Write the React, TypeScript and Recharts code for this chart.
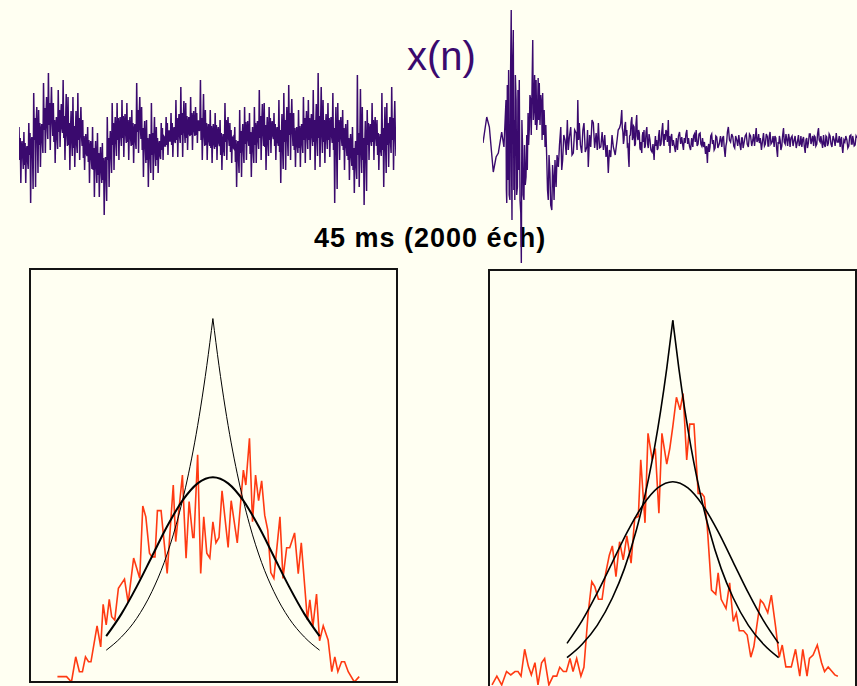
import React from 'react';
import { LineChart, ComposedChart, Line, XAxis, YAxis } from 'recharts';

const BG = '#fffff2';
const PURPLE = '#3a0a6e';
const RED = '#ff3a12';
const INK = '#141414';

// stationary noise x(n): values read column by column (peak, core, trough ...)
const leftWave = [
  13, -20, 2, -43, -6, -1, -16, -29, 8, -25, -3, -43, -11, -6, -21, -29, 17, -15, 7, -63, -1, 3, -11, -49,
  47, 0, 22, -47, 14, 33, 4, -33, 30, -5, 17, -27, 9, 16, -1, -13, 57, 10, 32, -13, 24, 43, 14, 1,
  67, 15, 37, -10, 29, 53, 19, 4, 37, -2, 20, -23, 12, 23, 2, -9, 50, 8, 30, -7, 22, 36, 12, 7,
  60, 2, 24, -20, 16, 46, 6, -6, 43, -5, 17, -30, 9, 29, -1, -16, 43, -8, 14, -27, 6, 29, -4, -13,
  47, 0, 22, -20, 14, 33, 4, -6, 20, -18, 4, -30, -4, 6, -14, -16, 13, -22, 0, -43, -8, -1, -18, -29,
  13, -30, -8, -57, -16, -1, -26, -43, 7, -35, -13, -57, -21, -7, -31, -43, -3, -40, -18, -75, -26, -17, -36, -61,
  23, -20, 2, -47, -6, 9, -16, -33, 37, -5, 17, -30, 9, 23, -1, -16, 37, 0, 22, -20, 14, 23, 4, -6,
  40, 2, 24, -17, 16, 26, 6, -3, 37, -2, 20, -20, 12, 23, 2, -6, 30, -5, 17, -23, 9, 16, -1, -9,
  57, 8, 30, -13, 22, 43, 12, 1, 33, -10, 12, -37, 4, 19, -6, -23, 20, -20, 2, -47, -6, 6, -16, -33,
  37, -15, 7, -40, -1, 23, -11, -26, 13, -20, 2, -33, -6, -1, -16, -19, 17, -10, 12, -20, 4, 3, -6, -6,
  23, -5, 17, -15, 9, 9, -1, -1, 27, -5, 17, -17, 9, 13, -1, -3, 40, 0, 22, -17, 14, 26, 4, -3,
  53, 5, 27, -17, 19, 39, 9, -3, 37, 2, 24, -10, 16, 23, 6, 4, 43, 5, 27, -10, 19, 29, 9, 4,
  33, 5, 27, -3, 19, 19, 9, 11, 60, 0, 22, -20, 14, 46, 4, -6, 30, -5, 17, -20, 9, 16, -1, -6,
  30, -8, 14, -23, 6, 16, -4, -9, 27, -7, 15, -20, 7, 13, -3, -6, 20, -15, 7, -30, -1, 6, -11, -16,
  37, -2, 20, -20, 12, 23, 2, -6, 17, -12, 10, -23, 2, 3, -8, -9, 13, -22, 0, -47, -8, -1, -18, -33,
  30, -13, 9, -37, 1, 16, -9, -23, 33, -4, 18, -20, 10, 19, 0, -6, 27, -14, 8, -37, 0, 13, -10, -23,
  33, -5, 17, -23, 9, 19, -1, -9, 50, 2, 24, -20, 16, 36, 6, -6, 37, -7, 15, -30, 7, 23, -3, -16,
  33, 0, 22, -13, 14, 19, 4, 1, 27, -6, 16, -20, 8, 13, -2, -6, 40, -12, 10, -43, 2, 26, -8, -29,
  47, -2, 20, -30, 12, 33, 2, -16, 55, 5, 27, -20, 19, 41, 9, -6, 27, -10, 12, -27, 4, 13, -6, -13,
  30, -8, 14, -27, 6, 16, -4, -13, 43, 0, 22, -23, 14, 29, 4, -9, 40, 0, 22, -20, 14, 26, 4, -6,
  50, -2, 20, -30, 12, 36, 2, -16, 67, 2, 24, -27, 16, 53, 6, -13, 40, -2, 20, -23, 12, 26, 2, -9,
  37, 0, 22, -17, 14, 23, 4, -3, 47, -10, 12, -63, 4, 33, -6, -49, 37, -2, 20, -20, 12, 23, 2, -6,
  30, -10, 12, -30, 4, 16, -6, -16, 20, -20, 2, -40, -6, 6, -16, -26, 13, -30, -8, -53, -16, -1, -26, -39,
  65, -15, 7, -47, -1, 51, -11, -33, 33, -20, 2, -65, -6, 19, -16, -51, 30, -5, 17, -20, 9, 16, -1, -6,
  37, -2, 20, -20, 12, 23, 2, -6, 20, -15, 7, -30, -1, 6, -11, -16, 47, -10, 12, -47, 4, 33, -6, -33,
  37, -5, 17, -27, 9, 23, -1, -13, 53, 0, 22, -30, 14, 39, 4, -16,
];

// transient x(n): [sample, value]
const rightWave: [number, number][] = [
  [0, -3], [20, 23], [34, 13], [55, -32], [70, -17], [82, -13], [100, 8], [112, -7],
  [123, 40], [125, -50], [127, -63], [130, 55], [133, -40], [137, 70], [140, -55], [144, -60], [147, 60], [151, 130],
  [153, -30], [155, -80], [158, 75], [162, 110], [165, -50], [168, 20], [170, -60], [173, 65], [177, 40], [180, -55],
  [184, -47], [187, 50], [190, -30], [194, 60], [198, -60], [202, -73], [205, -123], [208, 20], [212, -10], [215, -55],
  [219, -60], [222, -5], [226, -45], [230, -37], [234, 5], [237, -30], [241, 27], [244, -5], [248, 13], [251, 45],
  [255, 40], [258, 5], [262, 50], [266, 100], [269, 20], [273, 33], [276, 65], [280, 15], [284, 60], [287, 10],
  [291, 23], [295, 62], [298, 20], [301, 57], [305, 15], [309, 45], [314, 33], [316, 0], [319, 47], [323, 5],
  [327, 30], [332, -7], [336, 15], [341, -20], [345, -50], [349, -60], [353, -15], [358, -33], [362, -65], [368, -70],
  [372, -25], [376, -37], [380, -60], [385, -20], [391, -47], [396, -15], [403, -27], [409, -5], [416, 13], [421, -30],
  [426, -20], [432, 5], [439, 0], [445, -15], [451, 20], [456, -10], [462, 3], [469, 13], [476, -15], [483, -13],
  [490, 10], [498, 7], [503, -10], [507, 40], [511, 0], [515, 17], [521, -5], [528, -13], [534, 10], [540, 17],
  [547, -12], [555, -7], [559, 10], [563, -27], [570, 5], [576, -7], [583, 20], [590, 17], [597, -8], [605, 7],
  [611, -10], [617, 17], [623, -8], [630, -7], [637, 8], [644, -10], [651, 5], [658, -17], [664, -5], [670, -33],
  [676, -10], [683, -17], [690, 5], [697, -7], [707, -15],
  [717, 0], [723, 10], [730, 12], [736, 16], [742, 30], [745, 12], [748, 8], [751, -4], [754, 0], [758, 14],
  [762, 18], [765, 4], [769, 10], [772, -6], [775, -5], [778, -18], [781, -27], [784, 4], [788, 5], [792, 18],
  [796, 23], [799, 0], [802, 2], [805, 14], [808, 13], [811, -6], [815, -4], [818, 16], [822, 25], [825, 4],
  [829, 0], [832, 10], [836, 7], [839, -8], [842, -10], [845, -2], [849, -13], [852, 4], [855, 8], [858, -2],
  [861, 10], [864, -8], [868, -6], [872, 8], [876, 13], [880, -4], [884, -8], [888, 6], [893, 0], [898, -10],
  [904, -12], [909, -4], [915, -20], [918, -6], [922, 4], [925, -6], [929, 0], [932, -10], [936, -8], [939, 4],
  [943, 10], [947, -6], [952, -4], [956, 8], [961, 17], [964, 0], [968, -6], [971, 6], [974, 0], [978, 10],
  [982, 8], [986, -2], [991, 20], [993, 2], [995, -6], [997, 4], [1000, -13], [1004, 2], [1009, 6], [1013, -6],
  [1018, 0], [1023, -6], [1029, -12], [1034, 2], [1040, -10], [1045, 4], [1051, 8], [1057, -4], [1063, 3], [1067, -4],
  [1072, -10], [1076, 2], [1081, -3], [1085, 6], [1090, 10], [1094, -4], [1099, 2], [1104, -6], [1110, -10], [1116, 2],
  [1122, -7], [1126, 4], [1131, 6], [1135, -2], [1140, 10], [1145, -6], [1150, -4], [1155, 6], [1161, 7], [1165, -4],
  [1170, -6], [1174, 2], [1179, -7], [1184, -2], [1190, -14], [1195, -6], [1200, -23], [1203, -8], [1207, -4], [1210, -12],
  [1214, -7], [1218, 4], [1223, 6], [1227, -4], [1232, 0], [1236, -10], [1241, -8], [1245, 4], [1250, 3], [1256, -8],
  [1263, -4], [1270, 4], [1277, -7], [1281, 2], [1286, 4], [1290, -8], [1295, -17], [1299, -6], [1303, -2], [1307, 8],
  [1312, 13], [1318, 0], [1324, -2], [1330, 6], [1336, 3], [1341, -6], [1346, -8], [1351, 4], [1357, 0], [1362, -6],
  [1368, 5], [1373, -4], [1379, -10], [1383, 2], [1387, 2], [1391, -8], [1396, -3], [1402, 4], [1408, 6], [1413, -4],
  [1419, -7], [1425, 6], [1431, 4], [1437, -6], [1443, 0], [1447, 6], [1452, -6], [1456, 2], [1461, 12], [1465, -2],
  [1470, 0], [1474, 6], [1478, -3], [1483, 2], [1489, -10], [1494, -2], [1500, 7], [1505, -6], [1510, -4], [1515, 6],
  [1521, 3], [1524, -6], [1528, -6], [1531, 4], [1535, 8], [1540, -4], [1546, -2], [1551, 4], [1557, -7], [1561, 4],
  [1566, 2], [1570, -8], [1575, -17], [1578, -2], [1582, -4], [1585, 4], [1589, 0], [1593, -10], [1598, -6], [1602, 4],
  [1607, 12], [1611, -2], [1616, -4], [1620, 6], [1625, 0], [1629, -6], [1634, 6], [1638, 2], [1642, -7], [1647, 2],
  [1653, 4], [1658, -6], [1664, 0], [1669, 4], [1675, -8], [1681, -2], [1687, 5], [1691, -6], [1696, -4], [1700, 4],
  [1705, -7], [1709, 0], [1714, 3], [1718, -6], [1723, -13], [1727, 0], [1731, 2], [1735, -8], [1740, -3], [1745, 6],
  [1750, 6], [1754, -4], [1759, 0], [1763, 4], [1768, -6], [1772, 4], [1776, 3], [1780, -6], [1785, -4], [1789, 6],
  [1794, 12], [1798, 0], [1803, -2], [1807, 4], [1812, -3], [1816, -8], [1821, 5], [1825, -4], [1830, -7], [1834, 4],
  [1838, 3], [1842, -6], [1847, -3], [1851, 6], [1856, 4], [1861, -4], [1866, -7], [1872, 4], [1878, 0], [1883, -6],
  [1889, 7], [1894, -2], [1900, -2], [1905, 4], [1910, -7], [1913, 0], [1917, 3], [1920, -6], [1924, -13], [1930, 0],
  [1935, -2], [1940, 4], [1946, 0], [1951, -8], [1956, -6], [1961, 4], [1967, 5], [1970, -4], [1974, -4], [1977, 4],
  [1981, 0], [1985, -6], [1990, -5], [1995, 4], [2000, 2],
];

// histograms: [amplitude, count %]
const histLeft: [number, number][] = [
  [-2.55, 1.3], [-2.4, 1.3], [-2.32, 0], [-2.25, 6.1], [-2.19, 2.5], [-2.14, 2.5], [-2.09, 6.1], [-2.04, 4.9], [-2.0, 4.9],
  [-1.9, 13.6], [-1.84, 8.5], [-1.8, 18.8], [-1.75, 13.8], [-1.7, 20.0], [-1.66, 15.8], [-1.61, 15.0], [-1.55, 22.7],
  [-1.45, 24.9], [-1.39, 19.2], [-1.3, 30.0], [-1.2, 25.1], [-1.15, 42.6], [-1.1, 40.0], [-1.04, 31.2], [-1.0, 30.3],
  [-0.95, 30.3], [-0.91, 41.5], [-0.85, 41.5], [-0.75, 26.3], [-0.65, 47.7], [-0.61, 34.0], [-0.5, 50.1], [-0.44, 30.0],
  [-0.39, 43.7], [-0.33, 35.0], [-0.31, 35.0], [-0.25, 55.0], [-0.2, 26.3], [-0.15, 40.0], [-0.1, 31.2], [-0.05, 30.0],
  [0.0, 38.8], [0.05, 33.7], [0.1, 35.0], [0.15, 46.3], [0.25, 32.6], [0.3, 43.9], [0.4, 33.7], [0.5, 51.3], [0.54, 47.7],
  [0.6, 59.0], [0.65, 38.8], [0.7, 50.1], [0.75, 43.9], [0.8, 48.7], [0.85, 40.4], [0.9, 36.8], [0.95, 26.5], [1.0, 25.1],
  [1.1, 40.0], [1.15, 25.1], [1.21, 32.5], [1.26, 32.5], [1.34, 36.1], [1.4, 26.2], [1.45, 33.7], [1.55, 15.0], [1.59, 19.9],
  [1.64, 13.4], [1.7, 21.3], [1.75, 10.0], [1.81, 13.6], [1.89, 10.2], [1.95, 2.5], [2.0, 6.1], [2.05, 2.5], [2.11, 4.9],
  [2.16, 4.9], [2.22, 2.5], [2.32, 0], [2.4, 1.3],
];

const histRight: [number, number][] = [
  [-2.99, 1.2], [-2.91, 3.3], [-2.83, 1.2], [-2.75, 4.4], [-2.68, 3.6], [-2.61, 4.4], [-2.56, 4.4], [-2.51, 3.3], [-2.45, 9.7],
  [-2.39, 5.7], [-2.34, 3.6], [-2.28, 6.5], [-2.23, 1.2], [-2.17, 6.5], [-2.12, 7.5], [-2.05, 1.2], [-1.98, 3.3], [-1.92, 3.3],
  [-1.87, 5.4], [-1.81, 4.4], [-1.76, 4.4], [-1.7, 7.5], [-1.65, 4.4], [-1.59, 7.5], [-1.52, 3.3], [-1.47, 5.4], [-1.4, 18.3],
  [-1.34, 25.8], [-1.29, 24.6], [-1.23, 21.6], [-1.17, 21.6], [-1.11, 27.8], [-1.05, 32.1], [-1.0, 34.3], [-0.94, 27.0],
  [-0.88, 35.3], [-0.82, 31.0], [-0.76, 36.7], [-0.69, 30.2], [-0.63, 40.9], [-0.57, 41.3], [-0.53, 54.8], [-0.46, 39.8],
  [-0.41, 61.1], [-0.34, 54.8], [-0.29, 57.5], [-0.23, 42.1], [-0.18, 61.1], [-0.1, 53.8], [-0.05, 57.5], [0.0, 62.7],
  [0.06, 69.7], [0.12, 66.7], [0.17, 70.6], [0.23, 54.8], [0.28, 63.3], [0.35, 63.3], [0.42, 46.8], [0.48, 46.8], [0.52, 46.0],
  [0.57, 38.9], [0.64, 23.8], [0.71, 22.8], [0.75, 27.9], [0.8, 21.6], [0.88, 19.4], [0.94, 25.5], [1.0, 16.3], [1.05, 18.3],
  [1.1, 14.1], [1.17, 14.1], [1.23, 13.1], [1.29, 7.8], [1.34, 10.3], [1.45, 21.4], [1.5, 20.6], [1.57, 18.4], [1.63, 22.6],
  [1.7, 15.1], [1.76, 7.8], [1.81, 10.7], [1.87, 5.5], [1.96, 5.5], [2.03, 9.7], [2.1, 3.3], [2.15, 9.7], [2.22, 3.3],
  [2.26, 7.5], [2.32, 8.3], [2.39, 10.7], [2.46, 6.5], [2.51, 4.4], [2.57, 5.5], [2.68, 3.6], [2.73, 3.3],
];

// fitted models
const gaussFit: [number, number][] = [
  [-1.75, 11.1], [-1.5, 16.5], [-1.25, 23.1], [-1, 30.4], [-0.75, 37.7], [-0.5, 43.9], [-0.25, 48.1], [0, 49.6],
  [0.25, 48.1], [0.5, 43.9], [0.75, 37.7], [1, 30.4], [1.25, 23.1], [1.5, 16.5], [1.75, 11.1],
];
const laplaceFit: [number, number][] = [
  [-1.75, 7.7], [-1.5, 10.9], [-1.25, 15.4], [-1, 21.9], [-0.8, 28.9], [-0.6, 38.2], [-0.4, 50.4], [-0.3, 57.9],
  [-0.2, 66.6], [-0.1, 76.6], [0, 88], [0.1, 76.6], [0.2, 66.6], [0.3, 57.9], [0.4, 50.4], [0.6, 38.2], [0.8, 28.9],
  [1, 21.9], [1.25, 15.4], [1.5, 10.9], [1.75, 7.7],
];

const toXY = (arr: [number, number][]) => arr.map(([x, y]) => ({ x, y }));

const Wave = ({ left, width, data, xMax, sw }: { left: number; width: number; data: { n: number; v: number }[]; xMax: number; sw: number }) => (
  <div style={{ position: 'absolute', left, top: 0 }}>
    <LineChart width={width} height={270} data={data} margin={{ top: 0, right: 0, bottom: 0, left: 0 }}>
      <XAxis type="number" dataKey="n" domain={[0, xMax]} hide />
      <YAxis type="number" domain={[-130, 140]} hide allowDataOverflow />
      <Line dataKey="v" type="linear" stroke={PURPLE} strokeWidth={sw} dot={false} isAnimationActive={false} />
    </LineChart>
  </div>
);

type BoxProps = {
  left: number; top: number; w: number; h: number;
  domain: [number, number]; ticks: number[]; hist: [number, number][];
  gaussW: number; lapW: number;
};

const HistBox = ({ left, top, w, h, domain, ticks, hist, gaussW, lapW }: BoxProps) => (
  <>
    <div style={{ position: 'absolute', left, top }}>
      <ComposedChart width={w} height={h} margin={{ top: 0, right: 0, bottom: 0, left: 0 }}>
        <XAxis type="number" dataKey="x" domain={domain} ticks={ticks} allowDataOverflow mirror height={0}
          tick={false} axisLine={false} tickSize={6} tickLine={{ stroke: INK, strokeWidth: 1.2 }} />
        <YAxis type="number" domain={[0, 100]} hide allowDataOverflow />
        <Line data={toXY(hist)} dataKey="y" type="linear" stroke={RED} strokeWidth={1.6} dot={false} isAnimationActive={false} />
        <Line data={toXY(gaussFit)} dataKey="y" type="monotone" stroke="#000" strokeWidth={gaussW} dot={false} isAnimationActive={false} />
        <Line data={toXY(laplaceFit.filter(([x]) => x <= 0))} dataKey="y" type="monotone" stroke="#000" strokeWidth={lapW} dot={false} isAnimationActive={false} />
        <Line data={toXY(laplaceFit.filter(([x]) => x >= 0))} dataKey="y" type="monotone" stroke="#000" strokeWidth={lapW} dot={false} isAnimationActive={false} />
      </ComposedChart>
    </div>
    <div style={{ position: 'absolute', left: left - 1, top: top - 1, width: w + 2, height: h + 2, boxSizing: 'border-box', border: `2px solid ${INK}` }} />
  </>
);

export default function App() {
  const leftData = leftWave.map((v, i) => ({ n: i, v }));
  const rightData = rightWave.map(([n, v]) => ({ n, v }));
  return (
    <div style={{ position: 'absolute', left: 0, top: 0, width: 857, height: 686, background: BG, overflow: 'hidden', fontFamily: '"Liberation Sans", Arial, sans-serif' }}>
      <div style={{ position: 'absolute', left: 407, top: 36, fontSize: 40, lineHeight: '40px', color: PURPLE }}>x(n)</div>
      <div style={{ position: 'absolute', left: 314, top: 225, fontSize: 27, lineHeight: '27px', fontWeight: 'bold', letterSpacing: 1, color: '#000', whiteSpace: 'nowrap' }}>
        45 ms (2000 éch)
      </div>
      <Wave left={19} width={377} data={leftData} xMax={leftWave.length - 1} sw={1.5} />
      <Wave left={483} width={374} data={rightData} xMax={2000} sw={1.4} />
      <HistBox left={30} top={269} w={367} h={413} domain={[-3, 3.02]} ticks={[-2, -1, 0, 1, 2]} hist={histLeft} gaussW={2} lapW={1} />
      <HistBox left={489} top={270} w={367} h={420} domain={[-3.04, 3.03]} ticks={[-2, 0, 2]} hist={histRight} gaussW={1.6} lapW={1.6} />
    </div>
  );
}
